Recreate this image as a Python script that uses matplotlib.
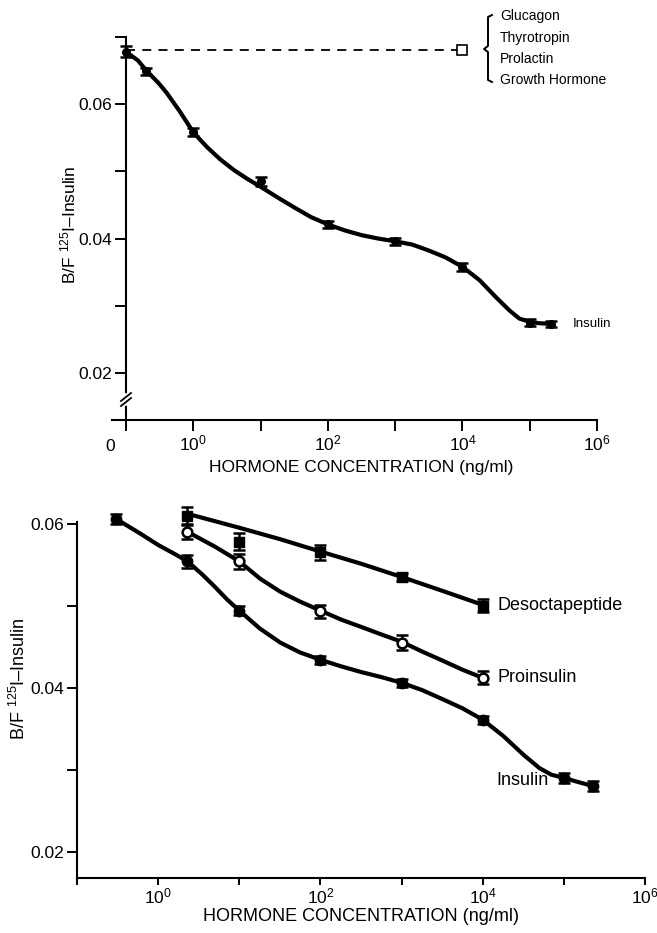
import matplotlib
matplotlib.use('Agg')
import matplotlib.pyplot as plt
from matplotlib.lines import Line2D
from matplotlib.ticker import NullLocator

plt.rcParams['font.family'] = ['Liberation Sans', 'DejaVu Sans']
plt.rcParams['mathtext.fontset'] = 'custom'
plt.rcParams['mathtext.rm'] = 'Liberation Sans'

# --- top panel: insulin displacement, other hormones no effect ---
top_x = [0.1, 0.2, 1, 10, 100, 1000, 1e4, 1e5, 2.1e5]
top_y = [0.0678, 0.0649, 0.0558, 0.0485, 0.0421, 0.0396, 0.0358, 0.0275, 0.0273]
top_err = [0.0008, 0.0005, 0.0006, 0.0007, 0.0005, 0.0005, 0.0006, 0.0005, 0.0005]
top_curve_x = [0.1, 0.15, 0.2, 0.3, 0.4, 0.63, 1, 1.6, 2.5, 4, 6.3, 10, 18, 32,
               56, 100, 180, 320, 560, 1000, 1800, 3200, 5600, 1e4, 1.8e4,
               3.2e4, 5e4, 7e4, 1e5, 1.4e5, 2.1e5]
top_curve_y = [0.0678, 0.0665, 0.0650, 0.0632, 0.0617, 0.0589, 0.0558, 0.0536,
               0.0518, 0.0502, 0.0489, 0.0477, 0.0461, 0.0446, 0.0432, 0.0421,
               0.0412, 0.0405, 0.0400, 0.0396, 0.0391, 0.0382, 0.0372, 0.0358,
               0.0338, 0.0312, 0.0293, 0.0281, 0.0276, 0.0274, 0.0273]
other_x = [0.1, 1e4]
other_y = [0.068, 0.068]
other_names = ['Glucagon', 'Thyrotropin', 'Prolactin', 'Growth Hormone']

# --- bottom panel: insulin, proinsulin, desoctapeptide ---
ins_x = [0.3, 2.3, 10, 100, 1000, 1e4, 1e5, 2.3e5]
ins_y = [0.0606, 0.0554, 0.0494, 0.0434, 0.0406, 0.0361, 0.0290, 0.0280]
ins_err = [0.0006, 0.0008, 0.0005, 0.0005, 0.0005, 0.0005, 0.0006, 0.0006]
ins_curve_x = [0.3, 0.6, 1, 1.6, 2.3, 3.5, 5, 7, 10, 18, 32, 56, 100, 180, 320,
               560, 1000, 1800, 3200, 5600, 1e4, 1.8e4, 3.2e4, 5e4, 7e4, 1e5,
               1.5e5, 2.3e5]
ins_curve_y = [0.0606, 0.0588, 0.0574, 0.0563, 0.0554, 0.0538, 0.0523, 0.0508,
               0.0494, 0.0472, 0.0455, 0.0443, 0.0434, 0.0426, 0.0419, 0.0413,
               0.0406, 0.0397, 0.0386, 0.0375, 0.0361, 0.0341, 0.0318, 0.0302,
               0.0294, 0.0290, 0.0285, 0.0280]

pro_x = [2.3, 10, 100, 1000, 1e4]
pro_y = [0.0590, 0.0554, 0.0493, 0.0455, 0.0412]
pro_err = [0.0009, 0.0009, 0.0008, 0.0009, 0.0008]
pro_curve_x = [2.3, 5, 10, 18, 32, 56, 100, 180, 320, 560, 1000, 1800, 3200,
               5600, 1e4]
pro_curve_y = [0.0590, 0.0572, 0.0554, 0.0533, 0.0517, 0.0505, 0.0494, 0.0483,
               0.0474, 0.0465, 0.0456, 0.0444, 0.0433, 0.0422, 0.0412]

des_x = [2.3, 10, 100, 1000, 1e4]
des_y = [0.0609, 0.0578, 0.0565, 0.0535, 0.0500]
des_err = [0.0011, 0.0010, 0.0009, 0.0005, 0.0008]
des_curve_x = [2.3, 10, 32, 100, 320, 1000, 3200, 1e4]
des_curve_y = [0.0612, 0.0595, 0.0581, 0.0566, 0.0551, 0.0535, 0.0518, 0.0501]

decade_ticks = [0.1, 1, 10, 100, 1e3, 1e4, 1e5, 1e6]
decade_labels = ['', r'$\mathregular{10^0}$', '', r'$\mathregular{10^2}$', '',
                 r'$\mathregular{10^4}$', '', r'$\mathregular{10^6}$']
y_ticks = [0.02, 0.03, 0.04, 0.05, 0.06, 0.07]
y_labels = ['0.02', '', '0.04', '', '0.06', '']
ylabel = r'B/F $\mathregular{^{125}}$I–Insulin'
xlabel = 'HORMONE CONCENTRATION (ng/ml)'

W, H = 657, 933
fig = plt.figure(figsize=(W / 100, H / 100), dpi=100)


def fx(px):
    return px / W


def fy(py):
    return 1 - py / H


def style_axis(ax, xlen, ylen, xpad):
    ax.set_xscale('log')
    ax.spines[['top', 'right']].set_visible(False)
    for s in ('left', 'bottom'):
        ax.spines[s].set_linewidth(1.5)
    ax.xaxis.set_minor_locator(NullLocator())
    ax.tick_params(direction='out', width=1.4, labelsize=12.5)
    ax.tick_params(axis='x', length=xlen, pad=xpad)
    ax.tick_params(axis='y', length=ylen, pad=2)


def draw_errorbar(ax, x, y, err, **kw):
    cont = ax.errorbar(x, y, yerr=err, linestyle='none', ecolor='black',
                       elinewidth=1.8, capsize=4, capthick=1.8, zorder=4, **kw)
    for art in cont.get_children():
        art.set_clip_on(False)


def draw_curve(ax, x, y):
    ax.plot(x, y, color='black', lw=3, clip_on=False, zorder=3,
            solid_joinstyle='round', solid_capstyle='round')


# ================= top panel =================
ax1 = fig.add_axes([fx(112), fy(420), fx(597) - fx(112), fy(37) - fy(420)])
style_axis(ax1, 8, 8, 2)
ax1.set_xlim(10 ** -1.21, 1e6)
ax1.set_ylim(0.013, 0.07)
ax1.spines['left'].set_position(('data', 0.1))
ax1.set_xticks(decade_ticks)
ax1.set_xticklabels(decade_labels)
ax1.set_yticks(y_ticks)
ax1.set_yticklabels(y_labels)
ax1.text(10 ** -1.24, -0.07, '0', transform=ax1.get_xaxis_transform(),
         ha='center', va='center', fontsize=12.5)

draw_curve(ax1, top_curve_x, top_curve_y)
draw_errorbar(ax1, top_x, top_y, top_err, marker='o', ms=5.5, mfc='black',
              mec='black')
ax1.plot(other_x, other_y, color='black', lw=1.3, linestyle=(0, (5, 4)),
         marker='s', markevery=[1], ms=7, mfc='white', mec='black', mew=1.2,
         clip_on=False)
ax1.text(4.3e5, top_y[-1], 'Insulin', ha='left', va='center', fontsize=9.5)

ax1.set_xlabel(xlabel, fontsize=12.5)
ax1.xaxis.set_label_coords(0.513, -0.105)
ax1.set_ylabel(ylabel, fontsize=12.5)
ax1.yaxis.set_label_coords(-0.07, 0.51)

# axis break marks on the y-axis
fig.add_artist(Line2D([fx(126), fx(126)], [fy(396), fy(403)], color='white',
                      lw=4, zorder=5))
for off in (0, 5):
    fig.add_artist(Line2D([fx(121), fx(131)], [fy(406 - off), fy(398 - off)],
                          color='black', lw=1.3, zorder=6))

# brace with the non-displacing hormones
bx = [492, 488, 488, 484, 488, 488, 492]
by = [15, 17, 46, 49, 52, 80, 82]
fig.add_artist(Line2D([fx(v) for v in bx], [fy(v) for v in by], color='black',
                      lw=1.4))
for name, py in zip(other_names, [16, 38, 59, 80]):
    fig.text(fx(500), fy(py), name, ha='left', va='center', fontsize=10)

# ================= bottom panel =================
ax2 = fig.add_axes([fx(77), fy(878), fx(645) - fx(77), fy(522) - fy(878)])
style_axis(ax2, 5, 7, 1)
ax2.set_xlim(0.1, 1e6)
ax2.set_ylim(0.0168, 0.0602)
ax2.set_xticks(decade_ticks)
ax2.set_xticklabels(decade_labels)
ax2.set_yticks(y_ticks[:-1])
ax2.set_yticklabels(y_labels[:-1])

draw_curve(ax2, ins_curve_x, ins_curve_y)
draw_curve(ax2, pro_curve_x, pro_curve_y)
draw_curve(ax2, des_curve_x, des_curve_y)
draw_errorbar(ax2, ins_x, ins_y, ins_err, marker='o', ms=7.5, mfc='black',
              mec='black')
draw_errorbar(ax2, des_x, des_y, des_err, marker='s', ms=6.5, mfc='black',
              mec='black')
draw_errorbar(ax2, pro_x, pro_y, pro_err, marker='o', ms=7, mfc='white',
              mec='black', mew=1.8)

ax2.text(1.5e4, des_y[-1], 'Desoctapeptide', ha='left', va='center', fontsize=13)
ax2.text(1.5e4, pro_y[-1], 'Proinsulin', ha='left', va='center', fontsize=13)
ax2.text(6.5e4, 0.0287, 'Insulin', ha='right', va='center', fontsize=13)

ax2.set_xlabel(xlabel, fontsize=13)
ax2.xaxis.set_label_coords(0.5, -0.083)
ax2.set_ylabel(ylabel, fontsize=13)
ax2.yaxis.set_label_coords(-0.085, 0.56)

fig.savefig('out.png', dpi=100)
